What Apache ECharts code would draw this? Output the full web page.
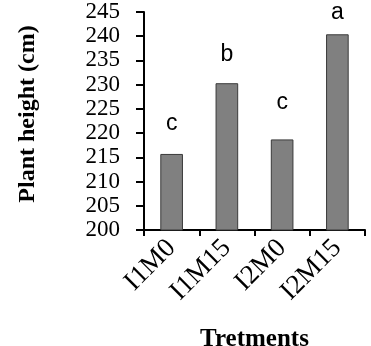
<!DOCTYPE html>
<html style="height: 100%">
<head>
<meta charset="utf-8">
<script src="https://cdn.jsdelivr.net/npm/echarts@6/dist/echarts.min.js"></script>
</head>
<body style="height: 100%; margin: 0; width: 100%; background: #fff;">
<div id="container" style="height: 346px; width: 371px;"></div>
<script type="text/javascript">
// data
var treatments = ['I1M0', 'I1M15', 'I2M0', 'I2M15'];
var heights = [215.7, 230.3, 218.7, 240.4];
var letters = ['c', 'b', 'c', 'a'];
var letterGap = [19, 17, 25, 10];

var myChart = echarts.init(document.getElementById('container'));
var serif = '"Liberation Serif", "Times New Roman", serif';

var barData = heights.map(function (v, i) {
    return {value: v, label: {distance: letterGap[i]}};
});

var option = {
    animation: false,
    grid: {left: 144, right: 6, top: 12, bottom: 116, containLabel: false, outerBoundsMode: 'none'},
    xAxis: {
        type: 'category',
        data: treatments,
        name: 'Tretments',
        nameLocation: 'middle',
        nameGap: 97,
        nameTextStyle: {fontFamily: serif, fontWeight: 'bold', fontSize: 25, color: '#000'},
        axisLine: {show: true, lineStyle: {color: '#000', width: 2}},
        axisTick: {show: true, inside: false, interval: 0, length: 6, lineStyle: {color: '#000', width: 2}},
        axisLabel: {rotate: 45, interval: 0, fontFamily: serif, fontSize: 27, color: '#000', margin: 14}
    },
    yAxis: {
        type: 'value',
        min: 200,
        max: 245,
        interval: 5,
        name: 'Plant height (cm)',
        nameLocation: 'middle',
        nameGap: 104,
        nameTextStyle: {fontFamily: serif, fontWeight: 'bold', fontSize: 24, color: '#000', padding: [0, 0, 0, 14]},
        splitLine: {show: false},
        axisLine: {show: true, lineStyle: {color: '#000', width: 2}},
        axisTick: {show: true, inside: false, length: 8, lineStyle: {color: '#000', width: 2}},
        axisLabel: {fontFamily: serif, fontSize: 23, color: '#000', margin: 24}
    },
    series: [{
        type: 'bar',
        barWidth: '41%',
        data: barData,
        itemStyle: {color: '#808080', borderColor: '#3a3a3a', borderWidth: 1},
        label: {
            show: true,
            position: 'top',
            fontFamily: '"Liberation Sans", Arial, sans-serif',
            fontSize: 23,
            color: '#000',
            formatter: function (p) { return letters[p.dataIndex]; }
        }
    }]
};

myChart.setOption(option, true);
</script>
</body>
</html>
